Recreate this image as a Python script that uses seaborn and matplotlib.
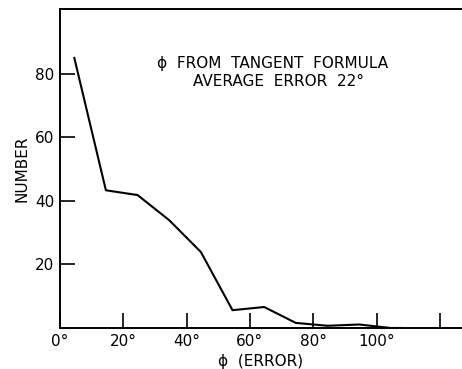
import matplotlib
matplotlib.use("Agg")
import matplotlib.pyplot as plt
import seaborn as sns
import pandas as pd

error_deg = [4.5, 14.5, 24.5, 34.5, 44.5, 54.5, 64.5, 74.5, 84.5, 94.5, 104.5, 108]
number = [85, 43.3, 41.8, 33.9, 23.9, 5.6, 6.6, 1.6, 0.7, 1.1, 0.0, 0.0]
x_ticks = [0, 20, 40, 60, 80, 100, 120]
x_tick_labels = ["0°", "20°", "40°", "60°", "80°", "100°", ""]
y_ticks = [20, 40, 60, 80]
y_tick_labels = ["20", "40", "60", "80"]

sns.set_style("ticks")
plt.rcParams['font.family'] = ['DejaVu Sans']
plt.rcParams['text.color'] = 'black'
plt.rcParams['axes.labelcolor'] = 'black'
plt.rcParams['xtick.color'] = 'black'
plt.rcParams['ytick.color'] = 'black'

df = pd.DataFrame({"error": error_deg, "number": number})

fig = plt.figure(figsize=(4.62, 3.69), dpi=100)
ax = fig.add_axes([60/462, 41/369, (462-60)/462, (328-9)/369])

sns.lineplot(data=df, x="error", y="number", ax=ax, color="black", linewidth=1.5)

ax.set_xlim(0, 127)
ax.set_ylim(0, 100.3)
ax.set_xticks(x_ticks)
ax.set_xticklabels(x_tick_labels, fontsize=11)
ax.set_yticks(y_ticks)
ax.set_yticklabels(y_tick_labels, fontsize=11)
ax.tick_params(axis="both", direction="in", length=11, width=1.2, colors="black", pad=4)

for s in ["left", "bottom", "top"]:
    ax.spines[s].set_visible(True)
    ax.spines[s].set_linewidth(1.4)
    ax.spines[s].set_color("black")
ax.spines["right"].set_visible(False)

ax.set_xlabel("ϕ  (ERROR)", fontsize=11, labelpad=4, color="black")
ax.set_ylabel("NUMBER", fontsize=11, labelpad=4, color="black")

ax.text(0.53, 0.83, "ϕ  FROM  TANGENT  FORMULA", transform=ax.transAxes,
        ha="center", va="center", fontsize=11, color="black")
ax.text(0.543, 0.772, "AVERAGE  ERROR  22°", transform=ax.transAxes,
        ha="center", va="center", fontsize=11, color="black")

fig.savefig("out.png", dpi=100)
